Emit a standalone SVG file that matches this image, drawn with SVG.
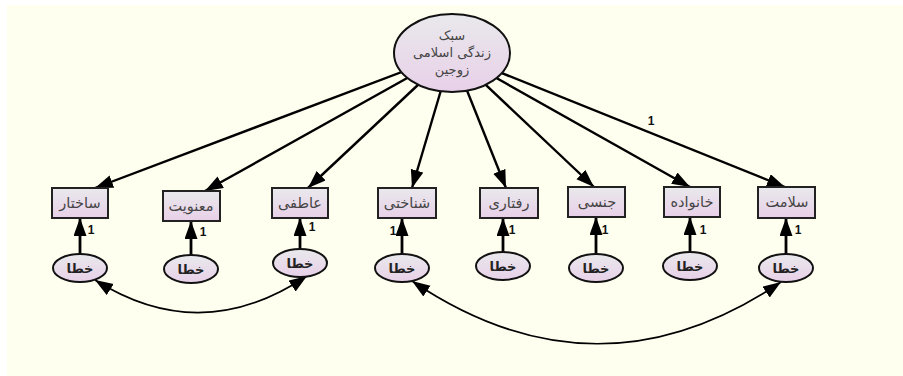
<svg xmlns="http://www.w3.org/2000/svg" width="903" height="376" viewBox="0 0 903 376">
<defs>
<linearGradient id="g" x1="0" y1="0" x2="0" y2="1">
<stop offset="0" stop-color="#e9e9ec"/>
<stop offset="1" stop-color="#e8d0e8"/>
</linearGradient>
<marker id="ah" markerUnits="userSpaceOnUse" markerWidth="20" markerHeight="14" refX="18" refY="6.5" orient="auto-start-reverse">
<path d="M0,0 L18,6.5 L0,13 z" fill="#000"/>
</marker>
</defs>
<style>
.box{fill:url(#g);stroke:#222;stroke-width:2}
.ell{fill:url(#g);stroke:#111;stroke-width:2}
.t{font-family:"DejaVu Sans",sans-serif;font-size:14.5px;fill:#444;text-anchor:middle}
.tl{font-family:"DejaVu Sans",sans-serif;font-size:13px;fill:#444;text-anchor:middle}
.te{font-family:"DejaVu Sans",sans-serif;font-size:13px;font-weight:bold;fill:#222;text-anchor:middle}
.one{font-family:"Liberation Sans",Arial,sans-serif;font-size:12px;font-weight:bold;fill:#111;text-anchor:middle}
.ca{fill:none;stroke:#000;stroke-width:2.4;marker-end:url(#ah)}
.cv{fill:none;stroke:#000;stroke-width:2.8;marker-end:url(#ah)}
.cd{fill:none;stroke:#000;stroke-width:1.7;marker-start:url(#ah);marker-end:url(#ah)}
</style>
<rect x="7" y="5" width="896" height="371" fill="#fffff0"/>
<g id="connectors">
<line class="ca" x1="452" y1="53" x2="95" y2="188"/>
<line class="ca" x1="452" y1="53" x2="205" y2="191"/>
<line class="ca" x1="452" y1="53" x2="308" y2="188"/>
<line class="ca" x1="452" y1="53" x2="412" y2="188"/>
<line class="ca" x1="452" y1="53" x2="506" y2="188"/>
<line class="ca" x1="452" y1="53" x2="594" y2="187"/>
<line class="ca" x1="452" y1="53" x2="690" y2="187"/>
<line class="ca" x1="452" y1="53" x2="785" y2="187"/>
<line class="cv" x1="80" y1="268" x2="80" y2="218"/>
<line class="cv" x1="191" y1="269" x2="191" y2="221"/>
<line class="cv" x1="300" y1="263" x2="300" y2="218"/>
<line class="cv" x1="402" y1="268" x2="402" y2="218"/>
<line class="cv" x1="503" y1="266" x2="503" y2="218"/>
<line class="cv" x1="596" y1="268" x2="596" y2="217"/>
<line class="cv" x1="690" y1="266" x2="690" y2="217"/>
<line class="cv" x1="786" y1="268" x2="786" y2="218"/>
<path class="cd" d="M95,280 Q201,347 307,276"/>
<path class="cd" d="M412,281 Q597,406 781,282"/>
<text class="one" x="91" y="234">1</text>
<text class="one" x="203" y="236">1</text>
<text class="one" x="312" y="231">1</text>
<text class="one" x="393" y="235">1</text>
<text class="one" x="512" y="234">1</text>
<text class="one" x="605" y="234">1</text>
<text class="one" x="703" y="234">1</text>
<text class="one" x="798" y="234">1</text>
<text class="one" x="651" y="125">1</text>
</g>
<g id="latent">
<ellipse class="ell" cx="452" cy="53" rx="58" ry="39"/>
<text class="tl" x="452" y="40">سبک</text>
<text class="tl" x="452" y="57">زندگی اسلامی</text>
<text class="tl" x="452" y="74">زوجین</text>
</g>
<g id="obs-sakhtar"><rect class="box" x="52" y="188" width="56" height="30"/><text class="t" x="80" y="208">ساختار</text></g>
<g id="obs-manaviat"><rect class="box" x="163" y="191" width="57" height="30"/><text class="t" x="191" y="211">معنویت</text></g>
<g id="obs-atefi"><rect class="box" x="272" y="188" width="56" height="30"/><text class="t" x="300" y="208">عاطفی</text></g>
<g id="obs-shenakhti"><rect class="box" x="378" y="188" width="58" height="30"/><text class="t" x="407" y="208">شناختی</text></g>
<g id="obs-raftari"><rect class="box" x="480" y="188" width="58" height="30"/><text class="t" x="509" y="208">رفتاری</text></g>
<g id="obs-jensi"><rect class="box" x="568" y="187" width="57" height="30"/><text class="t" x="597" y="207">جنسی</text></g>
<g id="obs-khanevade"><rect class="box" x="664" y="187" width="56" height="30"/><text class="t" x="692" y="207">خانواده</text></g>
<g id="obs-salamat"><rect class="box" x="758" y="187" width="57" height="31"/><text class="t" x="787" y="207">سلامت</text></g>
<g id="err1"><ellipse class="ell" cx="80" cy="268" rx="27" ry="14"/><text class="te" x="80" y="273">خطا</text></g>
<g id="err2"><ellipse class="ell" cx="191" cy="269" rx="27" ry="14"/><text class="te" x="191" y="274">خطا</text></g>
<g id="err3"><ellipse class="ell" cx="300" cy="263" rx="27" ry="14"/><text class="te" x="300" y="268">خطا</text></g>
<g id="err4"><ellipse class="ell" cx="402" cy="268" rx="27" ry="14"/><text class="te" x="402" y="273">خطا</text></g>
<g id="err5"><ellipse class="ell" cx="503" cy="266" rx="27" ry="14"/><text class="te" x="503" y="271">خطا</text></g>
<g id="err6"><ellipse class="ell" cx="596" cy="268" rx="27" ry="14"/><text class="te" x="596" y="273">خطا</text></g>
<g id="err7"><ellipse class="ell" cx="690" cy="266" rx="27" ry="14"/><text class="te" x="690" y="271">خطا</text></g>
<g id="err8"><ellipse class="ell" cx="786" cy="268" rx="27" ry="14"/><text class="te" x="786" y="273">خطا</text></g>
</svg>
